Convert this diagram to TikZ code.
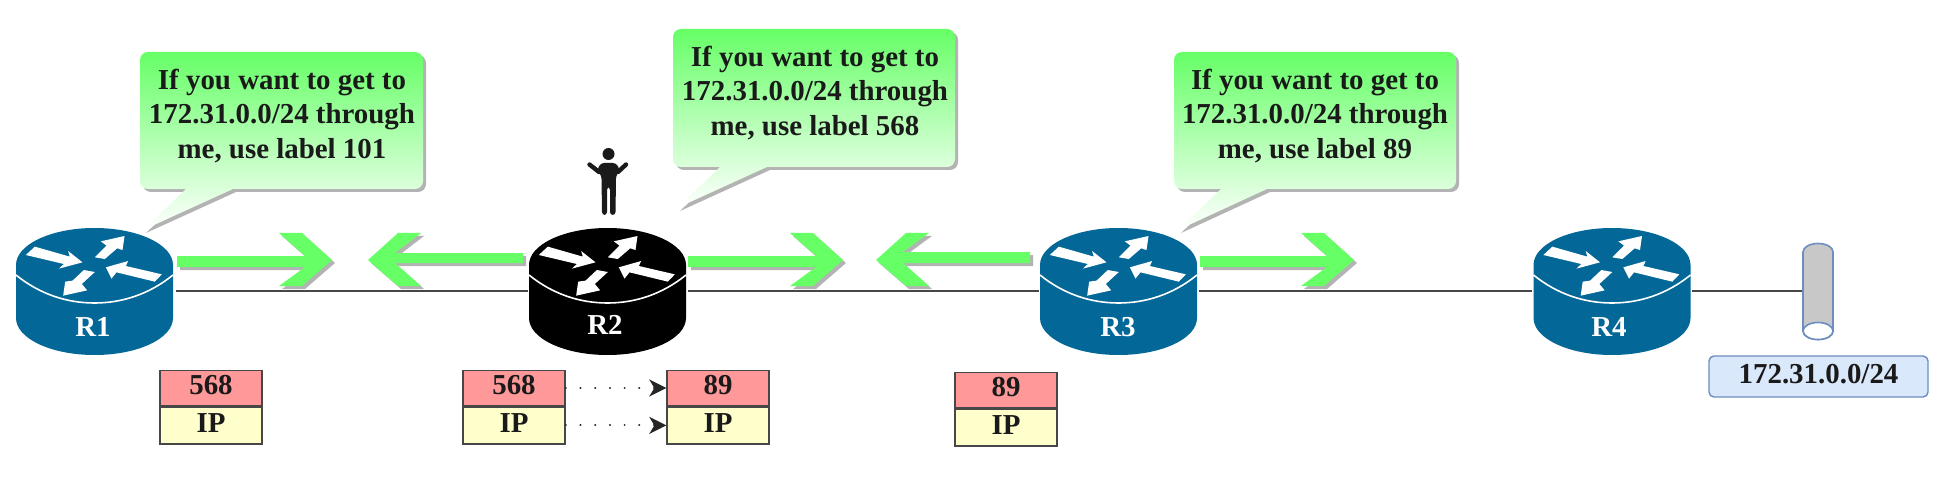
\documentclass[tikz,border=0pt]{standalone}
\usepackage{fontspec}
\setmainfont{Liberation Serif}
\usetikzlibrary{arrows.meta}
\definecolor{routerblue}{HTML}{036897}
\definecolor{arrowgreen}{HTML}{66FF66}
\definecolor{shadowgray}{HTML}{B3B3B3}
\definecolor{inkdark}{HTML}{1A1A1A}
\definecolor{labelred}{HTML}{FF9999}
\definecolor{ipyellow}{HTML}{FFFFCC}
\definecolor{netblue}{HTML}{DAE8FC}
\definecolor{netstroke}{HTML}{6C8EBF}
\definecolor{cylgray}{HTML}{C8C8C8}
\tikzset{
  x=0.5pt,y=-0.5pt,
  every node/.style={font=\bfseries\fontsize{14.45}{17.2}\selectfont,text=inkdark},
  routerbox/.style={rectangle,minimum width=80pt,minimum height=62pt,inner sep=0pt,outer sep=0pt},
  routertext/.style={text=white,inner sep=0pt},
  link/.style={draw=black!72,line width=0.75pt},
  speech/.style={align=center,inner sep=0pt},
  cell/.style={draw=black!72,line width=0.7pt,minimum width=51pt,inner sep=0pt,text height=10pt,text depth=3.1pt},
  labelcell/.style={cell,fill=labelred,minimum height=17.5pt},
  ipcell/.style={cell,fill=ipyellow,minimum height=18.5pt},
  hop/.style={draw=black!85,line width=1pt,line cap=round,dash pattern=on 0.1pt off 7.25pt,
    -{Stealth[length=8.5pt,width=8.5pt,inset=2.5pt]}},
  pics/router/.style={code={
    \fill[#1] (-78.5,0) .. controls (-78.5,-20.5) and (-43.4,-37) .. (0,-37)
      .. controls (43.4,-37) and (78.5,-20.5) .. (78.5,0) -- (78.5,53)
      .. controls (78.5,73.5) and (43.4,90) .. (0,90)
      .. controls (-43.4,90) and (-78.5,73.5) .. (-78.5,53) -- cycle;
    \draw[white,line width=0.8pt] (-78.5,10) .. controls (-55,29) and (-28,38) .. (0,38)
      .. controls (28,38) and (55,29) .. (78.5,10);
    \begin{scope}[scale=1/3,shift={(-284,-705)}]
      \fill[white] (78,675) -- (105,650) -- (210,680) -- (205,663) -- (248,697) -- (177,716) -- (192,702) -- cycle;
      \fill[white] (285,682) -- (315,687) -- (352,655) -- (368,660) -- (374,618) -- (303,634) -- (320,647) -- cycle;
      \fill[white] (486,733) -- (465,755) -- (350,727) -- (335,746) -- (318,712) -- (385,693) -- (378,708) -- cycle;
      \fill[white] (285,726) -- (252,720) -- (218,752) -- (196,755) -- (190,797) -- (262,781) -- (246,762) -- cycle;
    \end{scope}
  }},
}
\newcommand{\greenarrow}[5]{%
  \foreach \gcol/\gdx in {shadowgray/3,arrowgreen/0}{
    \fill[\gcol,shift={(\gdx,\gdx)}] (#1,#4) -- ({#2-27*#3},#4) -- ({#2-53*#3},233) -- ({#2-30*#3},233)
      -- (#2,260) -- ({#2-30*#3},286) -- ({#2-53*#3},286) -- ({#2-27*#3},#5) -- (#1,#5) -- cycle;
  }}
\newcommand{\speechpath}[8]{%
  \path[#1] ({#2+20},#3) [rounded corners=4pt] -- (#4,#3) -- (#4,#5) [sharp corners] -- (#8,#5)
     -- (#6,#7) -- ({#6+43},#5) [rounded corners=4pt] -- (#2,#5) -- (#2,#3) [sharp corners] -- cycle;}
\newcommand{\speechbox}[7]{%
  \begin{scope}[shift={(3,3)}]\speechpath{fill=shadowgray}{#1}{#2}{#3}{#4}{#5}{#6}{#7}\end{scope}
  \speechpath{top color=arrowgreen,bottom color=white}{#1}{#2}{#3}{#4}{#5}{#6}{#7}}
\begin{document}
\begin{tikzpicture}
\useasboundingbox (0,0) rectangle (1952,502);
\fill[white] (0,0) rectangle (1952,502);

% named anchors of the routers and of the stub
\node[routerbox] (r1) at (96,291) {};
\node[routerbox] (r2) at (607.5,291) {};
\node[routerbox] (r3) at (1118.5,291) {};
\node[routerbox] (r4) at (1612,291) {};
\node[rectangle,minimum width=15pt,minimum height=48pt,inner sep=0pt,outer sep=0pt] (cyl) at (1818,291) {};

% links
\draw[link] (r1) -- (r2);
\draw[link] (r2) -- (r3);
\draw[link] (r3) -- (r4);
\draw[link] (r4) -- (cyl);

% green arrows
\greenarrow{177}{332}{1}{256}{267}
\greenarrow{523}{368}{-1}{253}{263}
\greenarrow{688}{843}{1}{256}{267}
\greenarrow{1030}{876}{-1}{252}{263}
\greenarrow{1200}{1354}{1}{256}{267}

% routers
\pic at (94.5,265) {router=routerblue};
\pic at (607.5,265) {router=black};
\pic at (1118.5,265) {router=routerblue};
\pic at (1612,265) {router=routerblue};
\node[routertext] (r1t) at (93,327) {R1};
\node[routertext] (r2t) at (605,325) {R2};
\node[routertext] (r3t) at (1118,327) {R3};
\node[routertext] (r4t) at (1609,327) {R4};

% speech boxes
\speechbox{140}{52}{423}{189}{143}{230}{233}
\speechbox{673}{29}{955}{167}{677}{208}{767}
\speechbox{1174}{52}{1456}{189}{1178}{230}{1267}
\node[speech] (c1) at (282,116) {If you want to get to\\172.31.0.0/24 through\\me, use label 101};
\node[speech] (c2) at (815,93) {If you want to get to\\172.31.0.0/24 through\\me, use label 568};
\node[speech] (c3) at (1315,116) {If you want to get to\\172.31.0.0/24 through\\me, use label 89};

% person
\fill[inkdark] (608.5,154) circle[radius=6];
\begin{scope}[inkdark,line cap=round]
  \draw[line width=2.2pt] (599,172) -- (589.5,164.5);
  \draw[line width=2.2pt] (618,172) -- (626,164.5);
  \fill[rounded corners=1.5pt] (601,163) -- (616,163) -- (620,170) -- (616,176) -- (615.5,215) -- (610,215) -- (610,187)
     -- (607,187) -- (607,215) -- (602,215) -- (601.5,176) -- (597,170) -- cycle;
\end{scope}

% label stacks
\node[labelcell] (p1a) at (211,388) {568};
\node[ipcell,anchor=north] (p1b) at (p1a.south) {IP};
\node[labelcell] (p2a) at (514,388) {568};
\node[ipcell,anchor=north] (p2b) at (p2a.south) {IP};
\node[labelcell] (p3a) at (718,388) {89};
\node[ipcell,anchor=north] (p3b) at (p3a.south) {IP};
\node[labelcell] (p4a) at (1006,390) {89};
\node[ipcell,anchor=north] (p4b) at (p4a.south) {IP};
\draw[hop] (p2a) -- (p3a);
\draw[hop] (p2b) -- (p3b);

% stub network
\path[fill=cylgray,draw=netstroke,line width=0.8pt] (1803,252) .. controls (1803,247) and (1810,243.5) .. (1818,243.5)
   .. controls (1826,243.5) and (1833,247) .. (1833,252) -- (1833,331)
   .. controls (1833,336) and (1826,339.5) .. (1818,339.5)
   .. controls (1810,339.5) and (1803,336) .. (1803,331) -- cycle;
\path[fill=white,draw=netstroke,line width=0.8pt] (1818,331) ellipse[x radius=15,y radius=8.5];
\node[draw=netstroke,fill=netblue,line width=0.7pt,rounded corners=2.5pt,minimum width=109.5pt,minimum height=20.5pt,
  inner sep=0pt,text height=10pt,text depth=3.1pt] (net) at (1818.5,376.5) {172.31.0.0/24};
\end{tikzpicture}
\end{document}
